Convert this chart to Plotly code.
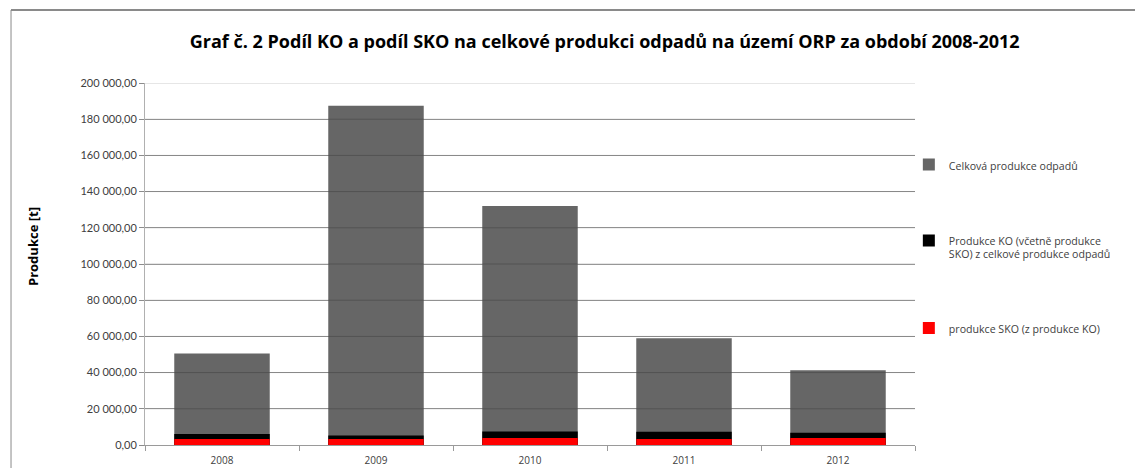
import plotly.graph_objects as go

years = ["2008", "2009", "2010", "2011", "2012"]
celkova = [50500, 187500, 132000, 59000, 41300]
ko = [6100, 5300, 7500, 7300, 6800]
sko = [3300, 3300, 3900, 3300, 3900]
y_ticks = [0, 20000, 40000, 60000, 80000, 100000, 120000, 140000, 160000, 180000, 200000]

series_names = [
    "Celková produkce odpadů",
    "Produkce KO (včetně produkce<br>SKO) z celkové produkce odpadů",
    "produkce SKO (z produkce KO)",
]
series_colors = ["#666666", "#000000", "#ff0000"]

fig = go.Figure()
for name, vals, col, grp in zip(series_names, [celkova, ko, sko], series_colors, ["a", "b", "c"]):
    fig.add_trace(go.Bar(
        x=years, y=vals, name=name, legendgroup=grp,
        marker=dict(color=col, line=dict(width=0)),
        hoverinfo="x+y+name",
    ))

FONT = "Open Sans, Lato, sans-serif"

# gridlines repeated above the bars so they show through the columns
grid_over = [
    dict(type="line", xref="paper", yref="y", x0=0, x1=1, y0=v, y1=v, layer="above",
         line=dict(color="rgba(0,0,0,0.2)", width=1))
    for v in y_ticks[1:]
]

frame = [
    dict(type="line", xref="paper", yref="paper", x0=-0.174, x1=1.3, y0=1.2017, y1=1.2017,
         line=dict(color="#8a8a8a", width=2)),
    dict(type="line", xref="paper", yref="paper", x0=-0.174, x1=-0.174, y0=-0.1, y1=1.2017,
         line=dict(color="#8a8a8a", width=1)),
]

fig.update_layout(
    width=1135, height=468,
    margin=dict(l=145, r=220, t=83, b=23, autoexpand=False),
    paper_bgcolor="white", plot_bgcolor="white",
    barmode="overlay", bargap=0.38,
    separators=", ",
    font=dict(family=FONT, size=11, color="#404040"),
    title=dict(
        text="<b>Graf č. 2 Podíl KO a podíl SKO na celkové produkci odpadů na území ORP za období 2008-2012</b>",
        font=dict(family=FONT, size=18, color="#000000"),
        x=0.597, xanchor="center", y=0.91, yanchor="middle", xref="paper", yref="container",
    ),
    xaxis=dict(
        type="category", tickson="boundaries", ticks="outside", ticklen=5,
        tickcolor="#9a9a9a", showline=True, linecolor="#9a9a9a", linewidth=1,
        showgrid=False, tickfont=dict(size=10, color="#404040"), ticklabelstandoff=6,
    ),
    yaxis=dict(
        range=[0, 200000], tickvals=y_ticks, tickformat=",.2f",
        showgrid=True, gridcolor="#a8a8a8", gridwidth=1,
        showline=True, linecolor="#b0b0b0", linewidth=1,
        ticks="outside", ticklen=5, tickcolor="#8c8c8c",
        zeroline=False, tickfont=dict(family="Lato, sans-serif", size=11, color="#404040"),
        automargin=False,
    ),
    annotations=[
        dict(text="<b>Produkce [t]</b>", xref="paper", yref="paper",
             x=(33 - 145) / 770, y=(445 - 247) / 362, xanchor="center", yanchor="middle",
             textangle=-90, showarrow=False,
             font=dict(family=FONT, size=13, color="#000000")),
    ],
    legend=dict(
        x=0.992, xanchor="left", y=0.812, yanchor="top",
        font=dict(family=FONT, size=10.6, color="#404040"),
        tracegroupgap=57, traceorder="grouped", itemwidth=30, valign="top",
        bgcolor="rgba(0,0,0,0)",
    ),
    shapes=grid_over + frame,
)

fig.write_html("out.html")
